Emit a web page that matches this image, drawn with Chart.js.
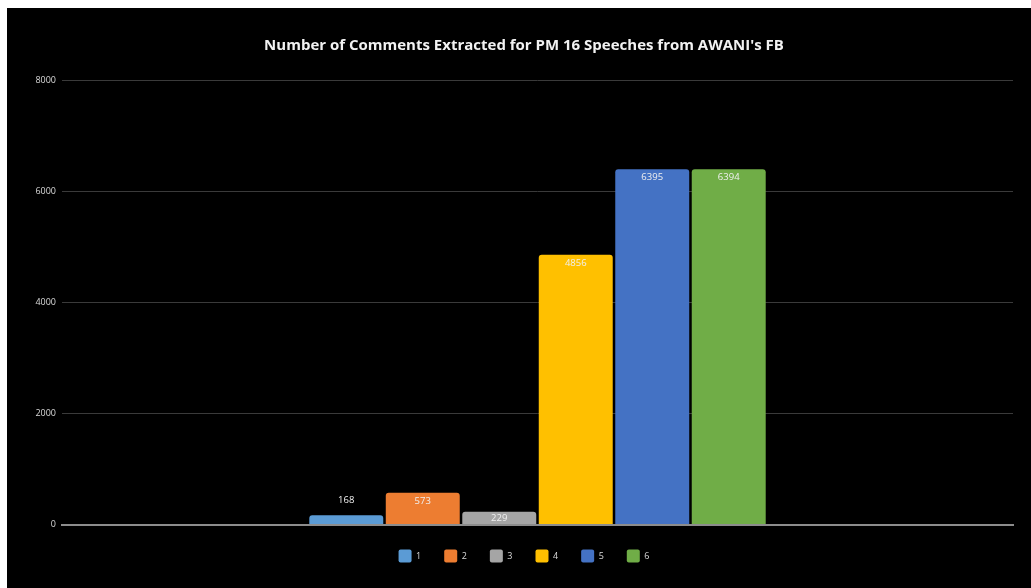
<!DOCTYPE html>
<html>
<head>
<meta charset="utf-8">
<script src="https://cdn.jsdelivr.net/npm/chart.js@4/dist/chart.umd.min.js"></script>
<style>
  html, body { margin: 0; padding: 0; background: #fff; overflow: hidden; width: 1031px; height: 588px; }
  #wrap { position: absolute; left: 7px; top: 8px; width: 1034px; height: 580px; background: #000; }
</style>
</head>
<body>
<div id="wrap"><canvas id="myChart" width="1034" height="580"></canvas></div>
<script>
// titel og data lest av bildet
const chartTitle = "Number of Comments Extracted for PM 16 Speeches from AWANI's FB";
const speeches = ['1', '2', '3', '4', '5', '6'];            // serienavn i legenden
const comments = [168, 573, 229, 4856, 6395, 6394];         // antall kommentarer per tale
const yTicks = [0, 2000, 4000, 6000, 8000];                 // verdier på y-aksen

// office-fargene
const colors = ['#5B9BD5', '#ED7D31', '#A5A5A5', '#FFC000', '#4472C4', '#70AD47'];

// tekst over/inne i stolpene
const valueLabels = {
    id: 'valueLabels',
    afterDatasetsDraw(chart) {
        const ctx = chart.ctx;
        ctx.save();
        ctx.font = '9.5px "Open Sans"';
        ctx.fillStyle = '#f0f0f0';
        ctx.textAlign = 'center';
        ctx.textBaseline = 'middle';
        chart.data.datasets.forEach((ds, i) => {
            const bar = chart.getDatasetMeta(i).data[0];
            const h = bar.base - bar.y;
            let ty;
            if (h < 11) {
                ty = bar.y - 15;      // for lav stolpe, skriv over
            } else {
                ty = bar.y + Math.min(8.5, h / 2);
            }
            ctx.fillText(String(ds.data[0]), bar.x, ty);
        });
        ctx.restore();
    }
};

const datasets = speeches.map((name, i) => ({
    label: name,
    data: [comments[i]],
    backgroundColor: colors[i],
    borderWidth: 0,
    borderRadius: 3,
    borderSkipped: 'start',
    categoryPercentage: 0.4826,
    barPercentage: 0.967,
}));

const ctx = document.getElementById('myChart').getContext('2d');
const myChart = new Chart(ctx, {
    type: 'bar',
    data: { labels: [''], datasets: datasets },
    options: {
        responsive: false,
        animation: false,
        layout: { padding: { left: 0, right: 0, top: 0, bottom: 15.5 } },
        scales: {
            x: {
                ticks: { display: false },
                grid: { display: false },
                border: { display: true, color: '#8c8c8c', width: 2 },
                afterFit: s => { s.height = 2; },
            },
            y: {
                min: 0,
                max: 8000,
                afterBuildTicks: s => { s.ticks = yTicks.map(v => ({ value: v })); },
                ticks: {
                    color: '#d9d9d9',
                    font: { family: 'Open Sans', size: 9 },
                    padding: 6,
                    callback: v => String(v),   // uten tusenskille
                },
                grid: { color: '#3a3a3a', lineWidth: 1, drawTicks: false },
                border: { display: false },
                afterFit: s => { s.width = 55; },
            },
            // tom akse til høyre, gir plass slik som i originalen
            pad: {
                position: 'right',
                display: true,
                ticks: { display: false },
                grid: { display: false },
                border: { display: false },
                afterFit: s => { s.width = 28; },
            }
        },
        plugins: {
            title: {
                display: true,
                text: chartTitle,
                color: '#f2f2f2',
                font: { family: 'Open Sans', size: 15, weight: 'bold', lineHeight: 1.2 },
                padding: { top: 28.5, bottom: 25.5 },
            },
            legend: {
                position: 'bottom',
                labels: {
                    color: '#d9d9d9',
                    font: { family: 'Open Sans', size: 9 },
                    boxWidth: 13,
                    boxHeight: 13,
                    padding: 23,
                    useBorderRadius: true,
                    borderRadius: 2,
                }
            },
            tooltip: { enabled: false },
        }
    },
    plugins: [valueLabels]
});
</script>
</body>
</html>
